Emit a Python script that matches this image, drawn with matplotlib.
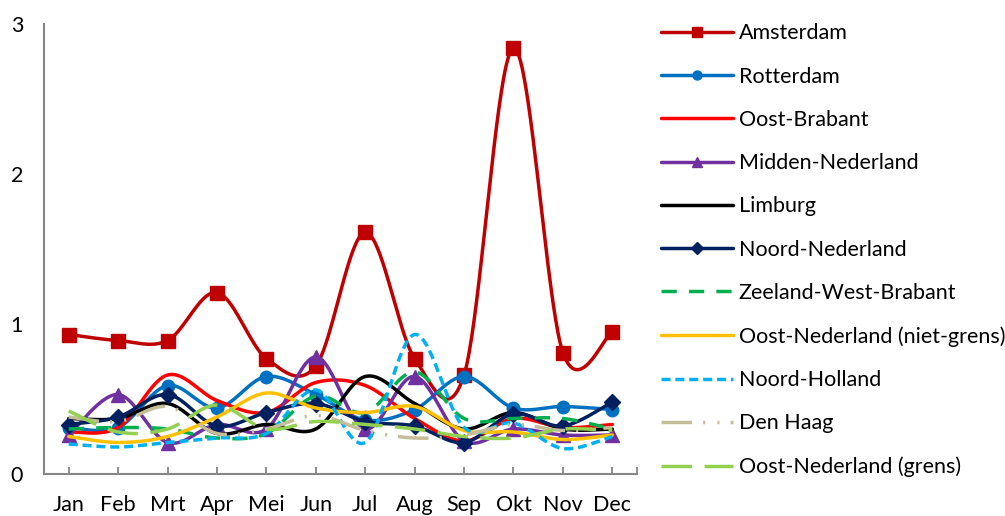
import numpy as np
import matplotlib
matplotlib.use("Agg")
import matplotlib.pyplot as plt

months = ["Jan", "Feb", "Mrt", "Apr", "Mei", "Jun", "Jul", "Aug", "Sep", "Okt", "Nov", "Dec"]

amsterdam = [0.93, 0.89, 0.89, 1.21, 0.77, 0.72, 1.61, 0.77, 0.66, 2.84, 0.81, 0.95]
rotterdam = [0.31, 0.31, 0.59, 0.44, 0.65, 0.53, 0.36, 0.43, 0.65, 0.44, 0.45, 0.43]
oost_brabant = [0.28, 0.31, 0.66, 0.49, 0.41, 0.61, 0.59, 0.37, 0.22, 0.37, 0.31, 0.33]
midden_nederland = [0.26, 0.53, 0.21, 0.33, 0.30, 0.78, 0.30, 0.65, 0.22, 0.30, 0.26, 0.26]
limburg = [0.37, 0.37, 0.47, 0.27, 0.33, 0.30, 0.65, 0.47, 0.30, 0.41, 0.30, 0.30]
noord_nederland = [0.33, 0.38, 0.53, 0.32, 0.41, 0.47, 0.35, 0.32, 0.21, 0.40, 0.32, 0.48]
zeeland_wb = [0.30, 0.31, 0.30, 0.24, 0.27, 0.52, 0.41, 0.68, 0.37, 0.37, 0.37, 0.30]
oost_ned_niet_grens = [0.25, 0.21, 0.25, 0.38, 0.54, 0.44, 0.41, 0.45, 0.29, 0.28, 0.23, 0.26]
noord_holland = [0.20, 0.18, 0.21, 0.24, 0.27, 0.56, 0.21, 0.93, 0.31, 0.34, 0.17, 0.25]
den_haag = [0.38, 0.35, 0.45, 0.27, 0.30, 0.39, 0.29, 0.24, 0.26, 0.33, 0.29, 0.31]
oost_ned_grens = [0.42, 0.28, 0.30, 0.46, 0.30, 0.35, 0.33, 0.30, 0.25, 0.24, 0.30, 0.29]

series = [
    ("Amsterdam", amsterdam, "#C00000", "-", "s", 9.5),
    ("Rotterdam", rotterdam, "#0070C0", "-", "o", 9),
    ("Oost-Brabant", oost_brabant, "#FF0000", "-", None, 0),
    ("Midden-Nederland", midden_nederland, "#7030A0", "-", "^", 10),
    ("Limburg", limburg, "#000000", "-", None, 0),
    ("Noord-Nederland", noord_nederland, "#002060", "-", "D", 8),
    ("Zeeland-West-Brabant", zeeland_wb, "#00B050", (0, (4.4, 3.5)), None, 0),
    ("Oost-Nederland (niet-grens)", oost_ned_niet_grens, "#FFC000", "-", None, 0),
    ("Noord-Holland", noord_holland, "#00B0F0", (0, (2.6, 1.4)), None, 0),
    ("Den Haag", den_haag, "#C4BD97", (0, (8.8, 3.2, 0.6, 3.5, 0.6, 3.2)), None, 0),
    ("Oost-Nederland (grens)", oost_ned_grens, "#92D050", (0, (8.8, 3.6)), None, 0),
]

NSEG = 40


def smooth(xv, yv):
    p = np.column_stack([xv, yv]).astype(float)
    n = len(p)
    xs, ys = [], []
    for i in range(n - 1):
        p0 = p[i - 1] if i > 0 else p[i]
        p1 = p[i]
        p2 = p[i + 1]
        p3 = p[i + 2] if i + 2 < n else p[i + 1]
        c1 = p1 + (p2 - p0) / 6.0
        c2 = p2 - (p3 - p1) / 6.0
        t = np.linspace(0, 1, NSEG, endpoint=False) if i < n - 2 else np.linspace(0, 1, NSEG + 1)
        b = ((1 - t) ** 3)[:, None] * p1 + (3 * (1 - t) ** 2 * t)[:, None] * c1 \
            + (3 * (1 - t) * t ** 2)[:, None] * c2 + (t ** 3)[:, None] * p2
        xs.append(b[:, 0])
        ys.append(b[:, 1])
    return np.concatenate(xs), np.concatenate(ys)


plt.rcParams['font.family'] = ['Lato', 'DejaVu Sans']

fig = plt.figure(figsize=(10.05, 5.16), dpi=100)
ax = fig.add_axes([44 / 1005, 1 - 474 / 516, (637 - 44) / 1005, (474 - 24) / 516])

x = np.arange(len(months))
handles = []
for name, vals, color, ls, mk, ms in series:
    sx, sy = smooth(x, vals)
    kw = dict(color=color, linestyle=ls, linewidth=2.5, label=name,
              solid_capstyle='round', dash_capstyle='butt')
    if mk:
        kw.update(marker=mk, markersize=ms, markevery=[i * NSEG for i in range(len(months))],
                  markerfacecolor=color, markeredgecolor=color)
    h, = ax.plot(sx, sy, **kw)
    handles.append(h)

ax.set_xlim(-0.5, 11.5)
ax.set_ylim(0, 3)
ax.set_yticks([0, 1, 2, 3])
ax.set_xticks(x)
ax.set_xticklabels(months)
ax.set_xticks([11.5], minor=True)
for s in ["top", "right"]:
    ax.spines[s].set_visible(False)
for s in ["left", "bottom"]:
    ax.spines[s].set_color("#868686")
    ax.spines[s].set_linewidth(1.5)
ax.tick_params(axis='x', which='both', direction='in', length=5, width=1.3, color="#868686",
               labelsize=15.5, pad=15)
ax.tick_params(axis='y', length=0, labelsize=15.5, pad=15)

leg = fig.legend(handles=handles, loc='upper left', bbox_to_anchor=(655 / 1005, 1 - 17 / 516),
                 frameon=False, fontsize=15.5, handlelength=3.3, handletextpad=0.28,
                 labelspacing=1.08, markerscale=0.72, borderaxespad=0, borderpad=0.3)

fig.savefig("out.png", dpi=100)
